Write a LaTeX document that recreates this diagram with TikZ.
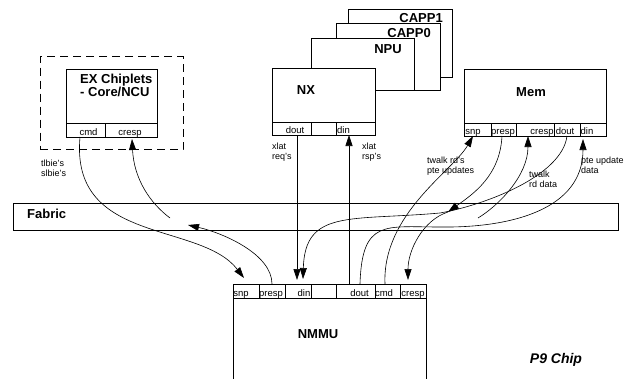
\documentclass[tikz,border=0pt]{standalone}
\usepackage{fontspec}
\setmainfont{Liberation Sans}
\usetikzlibrary{arrows.meta, positioning, fit, calc}

\begin{document}
\begin{tikzpicture}[
  x=1pt, y=-1pt,
  box/.style={rectangle, draw, line width=0.8pt, fill=white, inner sep=0pt, outer sep=0pt, anchor=north west},
  cell/.style={rectangle, draw, line width=0.8pt, inner sep=0pt, outer sep=0pt, anchor=north west, minimum height=13pt},
  port/.style={anchor=base, inner sep=0pt, yshift=1.5pt, font=\fontsize{9.5}{10}\selectfont},
  title/.style={inner sep=0pt, font=\bfseries\fontsize{13}{10}\selectfont},
  note/.style={inner sep=0pt, anchor=north west, align=left, font=\fontsize{9}{10}\selectfont},
  group/.style={draw, line width=0.8pt, dashed, dash pattern=on 8pt off 5pt, inner xsep=26pt, inner ysep=12.5pt, outer sep=0pt},
  arrow/.style={->, line width=0.6pt, >={Triangle[length=11pt, width=7pt]}}
]
  \useasboundingbox (0,0) rectangle (635,378);

  \node[box, minimum width=91pt, minimum height=54pt] (ex) at (66,69) {};
  \node[title, anchor=north west, align=left] (ex-t) at ([shift={(14,4.5)}]ex.north west) {EX Chiplets\\- Core/NCU};
  \node[cell, minimum width=39pt, minimum height=14pt, label={[port, xshift=3pt]south:cmd}] (ex-cmd) at (ex.south west) {};
  \node[cell, minimum width=52pt, minimum height=14pt, right=0pt of ex-cmd, label={[port, xshift=-1pt]south:cresp}] (ex-cresp) {};
  \node[group, fit=(ex)(ex-cmd)(ex-cresp)] (exgroup) {};

  \node[box, minimum width=104pt, minimum height=68pt] (capp1) at (348,9) {};
  \node[title, anchor=east] (capp1-t) at ([shift={(-9,9)}]capp1.north east) {CAPP1};
  \node[box, minimum width=104pt, minimum height=67pt] (capp0) at (336,23) {};
  \node[title, anchor=east] (capp0-t) at ([shift={(-9,10)}]capp0.north east) {CAPP0};
  \node[box, minimum width=103pt, minimum height=52pt] (npu) at (311,38) {};
  \node[title, anchor=east] (npu-t) at ([shift={(-12,11)}]npu.north east) {NPU};
  \node[box, minimum width=103pt, minimum height=54pt] (nx) at (272,68) {};
  \node[title] (nx-t) at ([shift={(34,22)}]nx.north west) {NX};
  \node[cell, minimum width=39pt, label={[port, xshift=3.5pt]south:dout}] (nx-dout) at (nx.south west) {};
  \node[cell, minimum width=25pt, right=0pt of nx-dout] (nx-gap) {};
  \node[cell, minimum width=39pt, right=0pt of nx-gap, label={[port, xshift=-12pt]south:din}] (nx-din) {};

  \node[box, minimum width=142pt, minimum height=54pt] (mem) at (464,69) {};
  \node[title] (mem-t) at ([shift={(67,23)}]mem.north west) {Mem};
  \node[cell, minimum width=27pt, label={[port, xshift=-4.5pt]south:snp}] (mem-snp) at (mem.south west) {};
  \node[cell, minimum width=25pt, right=0pt of mem-snp, label={[port, xshift=-0.5pt]south:presp}] (mem-presp) {};
  \node[cell, minimum width=38pt, right=0pt of mem-presp, label={[port, xshift=7pt]south:cresp}] (mem-cresp) {};
  \node[cell, minimum width=26pt, right=0pt of mem-cresp, label={[port, xshift=-2pt]south:dout}] (mem-dout) {};
  \node[cell, minimum width=26pt, right=0pt of mem-dout, label={[port, xshift=-6pt]south:din}] (mem-din) {};

  \node[box, fill=none, minimum width=605pt, minimum height=27pt] (fabric) at (13,203) {};
  \node[title, anchor=west] (fabric-t) at ([shift={(14,10.5)}]fabric.north west) {Fabric};

  \node[box, minimum width=193pt, minimum height=100pt] (nmmu) at (233,284) {};
  \node[title] (nmmu-t) at ([shift={(85,50)}]nmmu.north west) {NMMU};
  \node[cell, minimum width=26pt, minimum height=14pt, label={[port, xshift=-5pt]south:snp}] (nmmu-snp) at (nmmu.north west) {};
  \node[cell, minimum width=26pt, minimum height=14pt, right=0pt of nmmu-snp, label={[port, xshift=-1pt]south:presp}] (nmmu-presp) {};
  \node[cell, minimum width=26pt, minimum height=14pt, right=0pt of nmmu-presp, label={[port, xshift=6pt]south:din}] (nmmu-din) {};
  \node[cell, minimum width=25pt, minimum height=14pt, right=0pt of nmmu-din] (nmmu-gap) {};
  \node[cell, minimum width=39pt, minimum height=14pt, right=0pt of nmmu-gap, label={[port, xshift=4pt]south:dout}] (nmmu-dout) {};
  \node[cell, minimum width=25pt, minimum height=14pt, right=0pt of nmmu-dout, label={[port, xshift=-3.5pt]south:cmd}] (nmmu-cmd) {};
  \node[cell, minimum width=26pt, minimum height=14pt, right=0pt of nmmu-cmd, label={[port]south:cresp}] (nmmu-cresp) {};

  \node[inner sep=0pt, font=\bfseries\itshape\fontsize{14}{16}\selectfont] (chip) at (556,360) {P9 Chip};

  \node[note] (tlbie) at ([shift={(1,10.5)}]exgroup.south west) {tlbie's\\slbie's};
  \node[note] (req) at ([shift={(0,8)}]nx-dout.south west) {xlat\\req's};
  \node[note] (rsp) at ([shift={(26,8)}]nx-din.south west) {xlat\\rsp's};
  \node[note] (twalk-rd) at ([shift={(-37,21)}]mem-snp.south west) {twalk rd's\\pte updates};
  \node[note] (twalk-data) at ([shift={(13,35)}]mem-cresp.south west) {twalk\\rd data};
  \node[note] (pte-data) at ([shift={(1,21)}]mem-din.south west) {pte update\\data};

  \coordinate (fab-l) at ([shift={(175,22)}]fabric.north west);
  \coordinate (fab-a) at ([shift={(157,15)}]fabric.north west);
  \coordinate (fab-b) at ([shift={(435,9)}]fabric.north west);
  \coordinate (fab-c) at ([shift={(465,15)}]fabric.north west);
  \coordinate (fab-d) at ([shift={(427,10)}]fabric.north west);
  \coordinate (fab-e) at ([shift={(427,24)}]fabric.north west);

  \draw[arrow] ([xshift=-5.5pt]ex-cmd.south) .. controls +(-10,108) and +(-44,-57) .. ([shift={(-2,-6)}]nmmu-snp.north);
  \draw[arrow] (nmmu-presp.north) .. controls +(0,-30) and +(35,8) .. (fab-l);
  \draw[arrow] (fab-a) .. controls +(-20,-15) and +(2,40) .. ([shift={(1,2)}]ex-cresp.south);
  \draw[arrow] ([xshift=5.5pt]nx-dout.south) -- ([shift={(-1,-4)}]nmmu-din.north);
  \draw[arrow] ([xshift=-6.5pt]nmmu-dout.north) -- ([xshift=-6.5pt]nx-din.south);
  \draw[arrow] (mem-dout.south) .. controls +(-5,40) and +(45,-8) .. (fab-d) .. controls +(-90,8) and +(2,-70) .. ([shift={(5,-5)}]nmmu-din.north);
  \draw[arrow] ([xshift=-2.5pt]nmmu-cmd.north) .. controls +(-3,-70) and +(-20,35) .. ([xshift=-4.5pt]mem-snp.south);
  \draw[arrow] ([xshift=-1.5pt]mem-presp.south) .. controls +(-2,40) and +(25,-18) .. (fab-b);
  \draw[arrow] (fab-b) .. controls +(-25,8) and +(0,-30) .. ([shift={(-5,-4)}]nmmu-cresp.north);
  \draw[arrow] (fab-c) .. controls +(20,-12) and +(0,40) .. ([xshift=-7pt]mem-cresp.south);
  \draw[arrow] ([xshift=4.5pt]nmmu-dout.north) .. controls +(2,-65) and +(-55,0) .. (fab-e) .. controls +(70,1) and +(0,71) .. ([shift={(-10,3)}]mem-din.south);
\end{tikzpicture}
\end{document}
